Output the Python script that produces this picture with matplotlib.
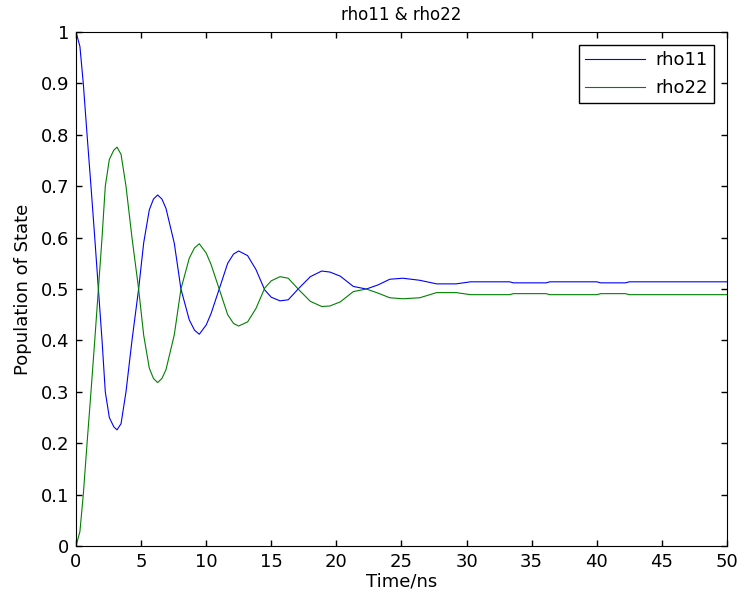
import matplotlib
matplotlib.use('Agg')
import matplotlib.pyplot as plt
from matplotlib.ticker import FormatStrFormatter

# values
t_ns = [0, 0.3, 0.56, 0.85, 1.15, 1.44, 1.72, 2.0, 2.25, 2.56, 2.9, 3.15, 3.46, 3.84,
        4.3, 4.81, 5.2, 5.63, 5.95, 6.27, 6.6, 6.91, 7.55, 8.06, 8.7, 9.1, 9.47, 10.0, 10.37,
        11.0, 11.65, 12.1, 12.49, 13.18, 13.82, 14.5, 15.0, 15.67, 16.3, 17.1, 18.0,
        18.87, 19.5, 20.3, 21.3, 22.3, 23.2, 24.1, 25.1, 26.4, 27.7, 29.2, 30.3,
        33.3, 33.6, 36.1, 36.4, 40.0, 40.3, 42.2, 42.5, 50.0]
rho11 = [1.0, 0.972, 0.90, 0.80, 0.70, 0.60, 0.50, 0.40, 0.30, 0.25, 0.232, 0.226, 0.238, 0.30,
         0.40, 0.50, 0.59, 0.654, 0.675, 0.683, 0.675, 0.657, 0.589, 0.50, 0.440, 0.420, 0.412, 0.430, 0.452,
         0.50, 0.550, 0.568, 0.574, 0.565, 0.538, 0.498, 0.484, 0.477, 0.479, 0.501, 0.524,
         0.535, 0.533, 0.525, 0.505, 0.500, 0.508, 0.519, 0.521, 0.517, 0.510, 0.510, 0.514,
         0.514, 0.512, 0.512, 0.514, 0.514, 0.512, 0.512, 0.514, 0.514]
rho22 = [0.0, 0.028, 0.10, 0.20, 0.30, 0.40, 0.50, 0.60, 0.70, 0.752, 0.770, 0.776, 0.762, 0.70,
         0.60, 0.50, 0.41, 0.346, 0.326, 0.318, 0.326, 0.343, 0.411, 0.50, 0.560, 0.580, 0.588, 0.570, 0.548,
         0.50, 0.450, 0.433, 0.428, 0.436, 0.462, 0.502, 0.516, 0.524, 0.521, 0.499, 0.476,
         0.466, 0.467, 0.475, 0.495, 0.500, 0.492, 0.483, 0.481, 0.483, 0.493, 0.493, 0.489,
         0.489, 0.491, 0.491, 0.489, 0.489, 0.491, 0.491, 0.489, 0.489]

fig = plt.figure(figsize=(7.4, 6.04), dpi=100)
ax = fig.add_axes([0.1027, 0.096, 0.8797, 0.851])

ax.plot(t_ns, rho11, color='#0000ff', lw=0.8, label='rho11')
ax.plot(t_ns, rho22, color='#008000', lw=0.8, label='rho22')

ax.set_xlim(0, 50)
ax.set_ylim(0, 1)
ax.set_xticks(range(0, 51, 5))
ax.set_yticks([i / 10 for i in range(11)])
ax.yaxis.set_major_formatter(FormatStrFormatter('%g'))
ax.tick_params(axis='both', direction='in', top=True, right=True, length=4,
               width=1, labelsize=13, pad=5)

ax.set_title('rho11 & rho22', fontsize=12, pad=9)
ax.set_xlabel('Time/ns', fontsize=13, labelpad=1)
ax.set_ylabel('Population of State', fontsize=13, labelpad=6)

leg = ax.legend(loc='upper right', fontsize=13, fancybox=False, framealpha=1,
                handlelength=3.3, borderpad=0.35, labelspacing=0.55, handletextpad=0.6,
                borderaxespad=0.7)
leg.get_frame().set_edgecolor('black')
leg.get_frame().set_linewidth(1)

plt.savefig('out.png', dpi=100)
